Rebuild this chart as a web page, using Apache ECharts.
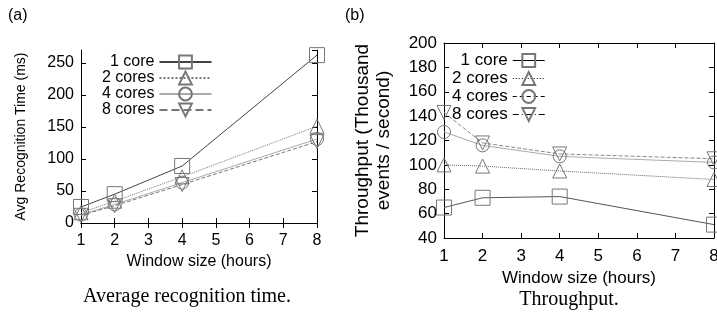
<!DOCTYPE html>
<html>
<head>
<meta charset="utf-8">
<script src="https://cdn.jsdelivr.net/npm/echarts@6/dist/echarts.min.js"></script>
<style>
html, body { margin: 0; padding: 0; background: #fff; }
#chart { width: 717px; height: 322px; }
</style>
</head>
<body>
<div id="chart"></div>
<script>
// data
const windowHours = [1, 2, 4, 8];
const seriesNames = ['1 core', '2 cores', '4 cores', '8 cores'];
const recog1 = [25, 45, 89, 262];
const recog2 = [16, 34, 72, 151];
const recog4 = [13, 29, 63, 131];
const recog8 = [12, 27, 60, 127];
const thr1 = [65, 73, 74, 51];
const thr2 = [100, 99, 95, 88];
const thr4 = [127, 116, 107, 102];
const thr8 = [143, 118, 109, 105];
const xTicks = [1, 2, 3, 4, 5, 6, 7, 8];
const recogTicks = [0, 50, 100, 150, 200, 250];
const thrTicks = [40, 60, 80, 100, 120, 140, 160, 180, 200];

const SANS = 'Liberation Sans';
const SERIF = 'Liberation Serif';

const symbols = ['rect', 'triangle', 'circle', 'triangle'];
const symbolRot = [0, 0, 0, 180];
const symbolSizes = [15, 14, 13, 14];
const linesA = [
    { color: '#444', type: 'solid' },
    { color: '#777', type: 'dotted' },
    { color: '#aaa', type: 'solid' },
    { color: '#777', type: 'dashed' },
];
const linesB = [
    { color: '#555', type: 'solid' },
    { color: '#666', type: 'dotted' },
    { color: '#aaa', type: 'solid' },
    { color: '#888', type: 'dashed' },
];
const legendDashB = ['solid', [1, 2], [4, 3], [6, 3, 1, 3]];

function pairs(vals) {
    return windowHours.map((h, i) => [h, vals[i]]);
}

function makeSeries(vals, i, grid, lines) {
    return {
        name: seriesNames[i],
        type: 'line',
        xAxisIndex: grid * 2,
        yAxisIndex: grid * 2,
        data: pairs(vals),
        symbol: symbols[i],
        symbolRotate: symbolRot[i],
        symbolSize: symbolSizes[i],
        lineStyle: { width: 1, color: lines[i].color, type: lines[i].type },
        itemStyle: { color: 'rgba(0,0,0,0)', borderColor: '#777', borderWidth: 1 },
        emphasis: { disabled: true },
        z: 3,
    };
}

const axisLineStyle = { show: true, lineStyle: { color: '#000', width: 1 } };
const tickStyle = { show: true, inside: true, length: 5, lineStyle: { color: '#000' } };

function xAxes(grid, nameGap, fs) {
    const base = {
        gridIndex: grid,
        type: 'value',
        min: xTicks[0],
        max: xTicks[xTicks.length - 1],
        interval: 1,
        axisLine: axisLineStyle,
        axisTick: tickStyle,
        splitLine: { show: false },
    };
    return [
        Object.assign({}, base, {
            position: 'bottom',
            name: 'Window size (hours)',
            nameLocation: 'middle',
            nameGap: nameGap,
            nameTextStyle: { fontFamily: SANS, fontSize: fs, color: '#000' },
            axisLabel: { fontFamily: SANS, fontSize: fs, color: '#000', margin: 10 },
        }),
        Object.assign({}, base, { position: 'top', axisLabel: { show: false } }),
    ];
}

function yAxes(grid, ticks, max, name, nameGap, nameSize, lineHeight, fs) {
    const base = {
        gridIndex: grid,
        type: 'value',
        min: ticks[0],
        max: max,
        interval: ticks[1] - ticks[0],
        axisLine: axisLineStyle,
        axisTick: tickStyle,
        splitLine: { show: false },
    };
    return [
        Object.assign({}, base, {
            position: 'left',
            name: name,
            nameLocation: 'middle',
            nameGap: nameGap,
            nameTextStyle: { fontFamily: SANS, fontSize: nameSize, color: '#000', lineHeight: lineHeight },
            axisLabel: { fontFamily: SANS, fontSize: fs, color: '#000', margin: 7, showMaxLabel: max === ticks[ticks.length - 1] },
        }),
        Object.assign({}, base, { position: 'right', axisLabel: { show: false } }),
    ];
}

const chart = echarts.init(document.getElementById('chart'));

const option = {
    animation: false,
    backgroundColor: '#fff',
    grid: [
        { left: 81, top: 50, width: 236, height: 173, containLabel: false, outerBoundsMode: 'none' },
        { left: 444, top: 43, width: 270, height: 195, containLabel: false, outerBoundsMode: 'none' },
    ],
    xAxis: [...xAxes(0, 30, 16), ...xAxes(1, 31, 17)],
    yAxis: [
        ...yAxes(0, recogTicks, 270, 'Avg Recognition Time (ms)', 52, 14, 16, 16),
        ...yAxes(1, thrTicks, 200, 'Throughput (Thousand\nevents / second)', 50, 19, 21, 17),
    ],
    legend: [
        {
            orient: 'vertical',
            align: 'right',
            left: 102,
            top: 54,
            padding: 0,
            itemWidth: 52,
            itemHeight: 16,
            itemGap: 0,
            selectedMode: false,
            textStyle: { fontFamily: SANS, fontSize: 16, color: '#000' },
            data: seriesNames.slice(),
        },
        {
            orient: 'vertical',
            align: 'right',
            left: 452,
            top: 52,
            padding: 0,
            itemWidth: 32,
            itemHeight: 16,
            itemGap: 1,
            selectedMode: false,
            lineStyle: { color: '#000', width: 1 },
            textStyle: { fontFamily: SANS, fontSize: 17, color: '#000' },
            data: seriesNames.map((n, i) => ({
                name: n,
                lineStyle: { color: '#000', type: legendDashB[i], width: 1 },
            })),
        },
    ],
    graphic: [
        { type: 'text', left: 8, top: 8, style: { text: '(a)', font: '16px ' + SANS, fill: '#000' } },
        { type: 'text', left: 345, top: 8, style: { text: '(b)', font: '16px ' + SANS, fill: '#000' } },
        { type: 'text', x: 187, y: 297, style: { text: 'Average recognition time.', font: '20px ' + SERIF, fill: '#000', align: 'center', verticalAlign: 'middle' } },
        { type: 'text', x: 569, y: 300, style: { text: 'Throughput.', font: '20px ' + SERIF, fill: '#000', align: 'center', verticalAlign: 'middle' } },
    ],
    series: [
        makeSeries(recog1, 0, 0, linesA),
        makeSeries(recog2, 1, 0, linesA),
        makeSeries(recog4, 2, 0, linesA),
        makeSeries(recog8, 3, 0, linesA),
        makeSeries(thr1, 0, 1, linesB),
        makeSeries(thr2, 1, 1, linesB),
        makeSeries(thr4, 2, 1, linesB),
        makeSeries(thr8, 3, 1, linesB),
    ],
};

chart.setOption(option);
</script>
</body>
</html>
